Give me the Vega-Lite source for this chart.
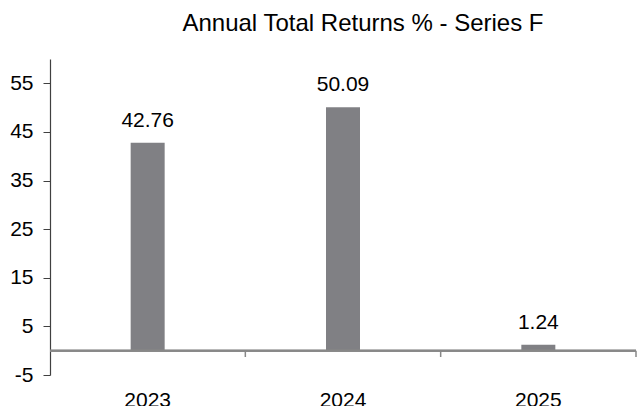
{
  "$schema": "https://vega.github.io/schema/vega-lite/v6.json",
  "autosize": "none",
  "width": 586,
  "height": 316,
  "padding": {"left": 50, "top": 59, "right": 3, "bottom": 31},
  "background": "white",
  "config": {
    "view": {"stroke": null},
    "font": "Liberation Sans"
  },
  "title": {
    "text": "Annual Total Returns % - Series F",
    "font": "Liberation Sans",
    "fontSize": 24,
    "fontWeight": "normal",
    "color": "#000000",
    "anchor": "middle",
    "dx": 20,
    "offset": 4,
    "baseline": "alphabetic"
  },
  "data": {
    "values": [
      {"year": "2023", "ret": 42.76},
      {"year": "2024", "ret": 50.09},
      {"year": "2025", "ret": 1.24}
    ]
  },
  "layer": [
    {
      "mark": {"type": "bar", "size": 34, "color": "#808084"},
      "encoding": {
        "x": {
          "field": "year",
          "type": "nominal",
          "sort": null,
          "scale": {"paddingInner": 0, "paddingOuter": 0},
          "axis": {
            "title": null,
            "domain": false,
            "ticks": false,
            "labelAngle": 0,
            "labelFontSize": 21,
            "labelColor": "#000000",
            "labelPadding": 14,
            "labelFont": "Liberation Sans"
          }
        },
        "y": {
          "field": "ret",
          "type": "quantitative",
          "scale": {"domain": [-5, 60], "nice": false, "zero": false},
          "axis": {
            "title": null,
            "values": [-5, 5, 15, 25, 35, 45, 55],
            "labelExpr": "replace(datum.label, '−', '-')",
            "grid": false,
            "domain": true,
            "domainColor": "#404040",
            "domainWidth": 1.2,
            "tickColor": "#404040",
            "tickSize": 7,
            "labelPadding": 10,
            "labelFontSize": 21,
            "labelColor": "#000000",
            "labelFont": "Liberation Sans"
          }
        }
      }
    },
    {
      "mark": {"type": "rule", "color": "#888888", "strokeWidth": 2},
      "encoding": {
        "y": {"datum": 0, "type": "quantitative"}
      }
    },
    {
      "mark": {"type": "rule", "color": "#888888", "strokeWidth": 1.5},
      "encoding": {
        "x": {"field": "year", "type": "nominal", "sort": null, "bandPosition": 1},
        "y": {"datum": 0, "type": "quantitative"},
        "y2": {"datum": -1.3}
      }
    },
    {
      "mark": {"type": "text", "fontSize": 21, "color": "#000000", "baseline": "alphabetic", "dy": -16, "font": "Liberation Sans"},
      "encoding": {
        "x": {"field": "year", "type": "nominal", "sort": null},
        "y": {"field": "ret", "type": "quantitative"},
        "text": {"field": "ret", "type": "quantitative", "format": ".2f"}
      }
    }
  ]
}
